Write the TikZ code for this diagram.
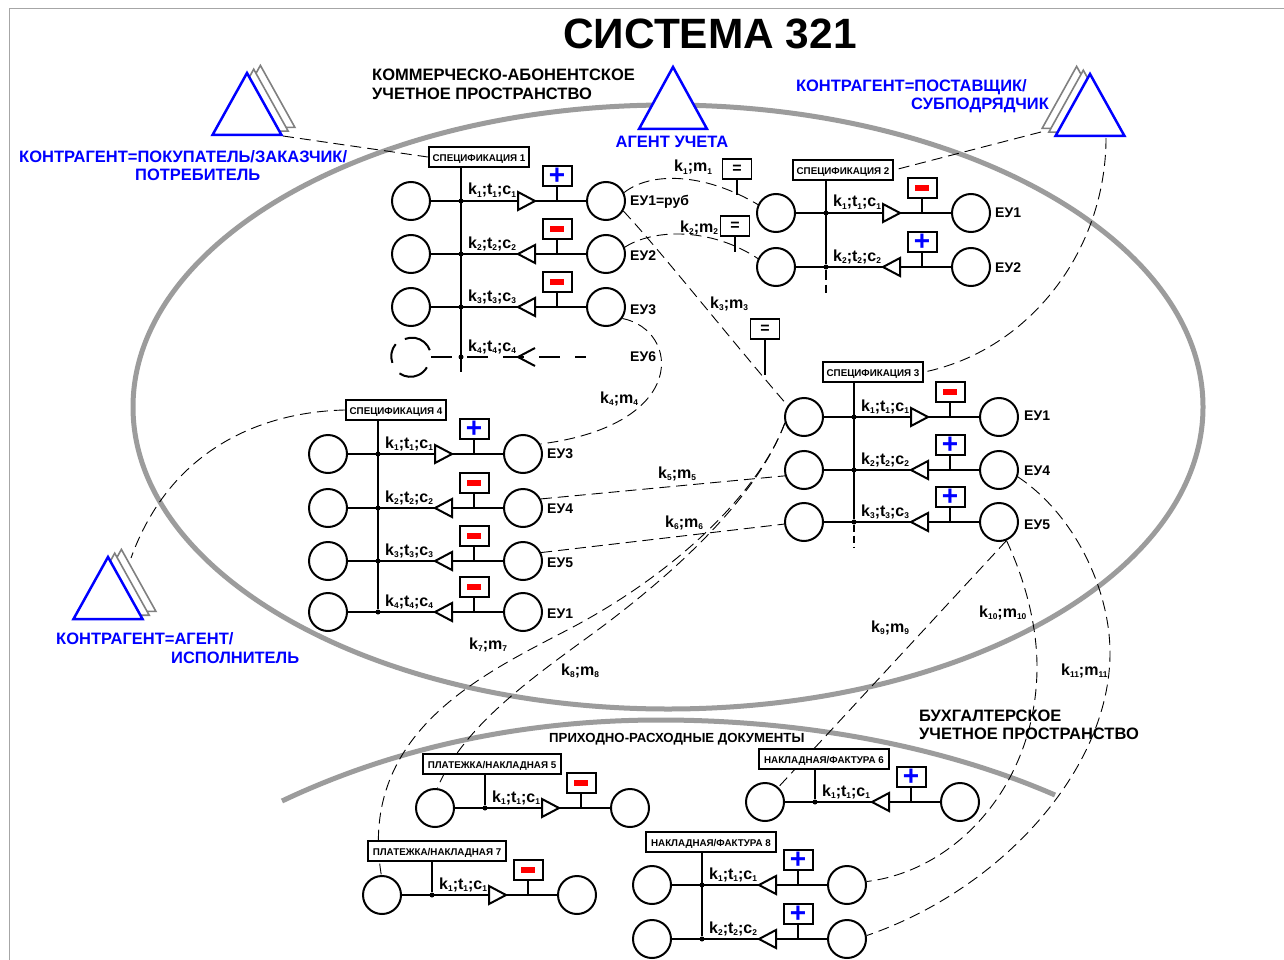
\documentclass[tikz,border=0pt]{standalone}
\usepackage{fontspec}
\setmainfont{Liberation Sans}
\usetikzlibrary{backgrounds}
\newcommand\fs[1]{\fontsize{#1}{#1}\selectfont}
\newcommand\lowd[1]{\raisebox{-2.4pt}{\fs{8.4}#1}}
\newcommand\kt[1]{k\lowd{#1};t\lowd{#1};c\lowd{#1}}
\newcommand\km[1]{k\lowd{#1};m\lowd{#1}}
\newcommand\plussign{\textcolor{blue}{\fs{28}\bfseries +}}
\newcommand\minussign{\textcolor{red}{\rule{14pt}{6pt}}}
\definecolor{arcgray}{HTML}{9C9C9C}
\definecolor{shadow}{HTML}{808080}
\tikzset{
 ring/.style={circle,draw,line width=2pt,minimum size=38pt,inner sep=0pt},
 joint/.style={circle,fill,inner sep=0pt,minimum size=5pt},
 flowline/.style={line width=2pt},
 tribox/.style={line width=2pt,fill=white},
 signbox/.style={draw,line width=2pt,fill=white,minimum width=29pt,minimum height=20pt,inner sep=0pt},
 eqbox/.style={draw,line width=1.3pt,fill=white,minimum width=29pt,minimum height=20pt,inner sep=0pt,font=\fs{16}\bfseries},
 specbox/.style={draw,line width=2.5pt,fill=white,minimum height=20pt,inner sep=0pt,text height=9pt,text depth=0pt,font=\fs{9.8}\bfseries},
 klabel/.style={anchor=base west,inner sep=0pt,font=\fs{16}\bfseries},
 eulabel/.style={anchor=base west,inner sep=0pt,font=\fs{14}\bfseries},
 caption/.style={anchor=base west,inner sep=0pt,font=\fs{16.5}\bfseries},
 bluecap/.style={caption,text=blue},
 link/.style={line width=0.9pt,dash pattern=on 11pt off 6pt},
 thinstem/.style={line width=1.2pt},
 agent/.style={draw=blue,line width=2.5pt,fill=white,line join=miter},
 agentshadow/.style={draw=shadow,line width=1.6pt,fill=white},
}
\newcommand\flowrow[7]{%
 \begin{scope}[shift={(#2,#3)}]
  \node[ring] (#1L) at (-50,0) {};
  \node[ring] (#1R) at (145,0) {};
  \node[joint] (#1D) at (0,0) {};
  \coordinate (#1J) at (96,0);
  \draw[flowline] (#1L) -- (#1R);
  \draw[tribox] (#4,-9) -- (#5,0) -- (#4,9) -- cycle;
  \node[signbox] (#1S) at (96,-25) {#6};
  \draw[flowline] (#1S) -- (#1J);
  \node[klabel] (#1K) at (7,-6) {#7};
 \end{scope}}
\newcommand\flowR[5]{\flowrow{#1}{#2}{#3}{57}{74}{#4}{\kt{#5}}}
\newcommand\flowL[5]{\flowrow{#1}{#2}{#3}{74}{57}{#4}{\kt{#5}}}
\newcommand\agentset[4]{%
 \foreach \k in {2,1}{
  \draw[agentshadow,shift={(#4*\k*6.7,-\k*3.8)}] (#2,#3) -- (#2+34.5,#3+62) -- (#2-34.5,#3+62) -- cycle;}
 \draw[agent] (#2,#3) -- (#2+34.5,#3+62) -- (#2-34.5,#3+62) -- cycle;}
\pgfdeclarelayer{under}
\pgfsetlayers{under,main}
\begin{document}
\begin{tikzpicture}[x=1pt,y=-1pt]
\useasboundingbox (0,0) rectangle (1284,960);
\begin{pgfonlayer}{under}
\fill[white] (0,0) rectangle (1284,960);
\draw[line width=1pt,color=shadow!70] (1284,9) -- (9,9) -- (9,960);
\draw[arcgray,line width=5pt] (668,407) ellipse [x radius=535pt,y radius=302pt];
\draw[arcgray,line width=5pt] (282,801) .. controls (400,745) and (530,720) .. (660,720) .. controls (800,720) and (940,745) .. (1055,795);
\end{pgfonlayer}
% title and captions
\node[inner sep=0pt,font=\fs{42.4}\bfseries] (title) at (710,34) {СИСТЕМА 321};
\node[caption] (ct1) at (372,81) {КОММЕРЧЕСКО-АБОНЕНТСКОЕ};
\node[caption] (ct2) at (372,100) {УЧЕТНОЕ ПРОСТРАНСТВО};
\node[bluecap,anchor=base] (cb1) at (672,148) {АГЕНТ УЧЕТА};
\node[bluecap,anchor=base east] (cb2) at (1027,92) {КОНТРАГЕНТ=ПОСТАВЩИК/};
\node[bluecap,anchor=base east] (cb3) at (1049,110) {СУБПОДРЯДЧИК};
\node[bluecap] (cb4) at (19,163) {КОНТРАГЕНТ=ПОКУПАТЕЛЬ/ЗАКАЗЧИК/};
\node[bluecap] (cb5) at (135,181) {ПОТРЕБИТЕЛЬ};
\node[bluecap] (cb6) at (56,644) {КОНТРАГЕНТ=АГЕНТ/};
\node[bluecap] (cb7) at (171,663) {ИСПОЛНИТЕЛЬ};
\node[caption] (ct3) at (919,721) {БУХГАЛТЕРСКОЕ};
\node[caption] (ct4) at (919,739) {УЧЕТНОЕ ПРОСТРАНСТВО};
\node[caption,font=\fs{13.2}\bfseries] (ct5) at (549,742) {ПРИХОДНО-РАСХОДНЫЕ ДОКУМЕНТЫ};
% agents
\agentset{ag1}{247}{73}{1}
\agentset{ag2}{1090}{74}{-1}
\agentset{ag3}{108}{557}{1}
\draw[agent] (673,67) -- (707,129) -- (639,129) -- cycle;
% boxes
\node[specbox,minimum width=100pt] (s1) at (479,157) {СПЕЦИФИКАЦИЯ 1};
\node[specbox,minimum width=100pt] (s2) at (843,170) {СПЕЦИФИКАЦИЯ 2};
\node[specbox,minimum width=100pt] (s3) at (873,372) {СПЕЦИФИКАЦИЯ 3};
\node[specbox,minimum width=100pt] (s4) at (396,410) {СПЕЦИФИКАЦИЯ 4};
\node[specbox,minimum width=138pt] (d5) at (492,764) {ПЛАТЕЖКА/НАКЛАДНАЯ 5};
\node[specbox,minimum width=130pt] (d6) at (824,759) {НАКЛАДНАЯ/ФАКТУРА 6};
\node[specbox,minimum width=138pt] (d7) at (437,851) {ПЛАТЕЖКА/НАКЛАДНАЯ 7};
\node[specbox,minimum width=130pt] (d8) at (711,842) {НАКЛАДНАЯ/ФАКТУРА 8};
% spec 1
\flowR{a1}{461}{201}{\plussign}{1}
\flowL{a2}{461}{254}{\minussign}{2}
\flowL{a3}{461}{307}{\minussign}{3}
\node[joint] (a4D) at (461,357) {};
\node[ring,draw=none] (a4L) at (411,357) {};
\draw[flowline] (a4L.20) arc [start angle=20,end angle=112,radius=19pt];
\draw[flowline] (a4L.140) arc [start angle=140,end angle=200,radius=19pt];
\draw[flowline] (a4L.235) arc [start angle=235,end angle=330,radius=19pt];
\coordinate (a4E) at (586,357);
\draw[line width=2pt,dash pattern=on 21pt off 15pt] (a4L.east) -- (a4E);
\draw[flowline] (535,348) -- (518,357) -- (535,366);
\node[klabel] (a4K) at (468,351) {\kt{4}};
\coordinate (a5E) at (461,372);
\draw[flowline] (s1.south -| a1D) -- (a5E);
% spec 2
\flowR{b1}{826}{213}{\minussign}{1}
\flowL{b2}{826}{267}{\plussign}{2}
\coordinate (b3E) at (826,293);
\draw[flowline] (s2.south -| b1D) -- (b2D);
\draw[line width=2pt,dash pattern=on 10pt off 5pt] (b2D) -- (b3E);
% spec 3
\flowR{c1}{854}{417}{\minussign}{1}
\flowL{c2}{854}{470}{\plussign}{2}
\flowL{c3}{854}{522}{\plussign}{3}
\coordinate (c4E) at (854,548);
\draw[flowline] (s3.south -| c1D) -- (c3D);
\draw[line width=1.1pt,dash pattern=on 7pt off 4pt] (c3D) -- (c4E);
% spec 4
\flowR{e1}{378}{454}{\plussign}{1}
\flowL{e2}{378}{508}{\minussign}{2}
\flowL{e3}{378}{561}{\minussign}{3}
\flowL{e4}{378}{612}{\minussign}{4}
\draw[flowline] (s4.south -| e1D) -- (e4D);
% documents
\flowR{f1}{485}{808}{\minussign}{1}
\draw[flowline] (d5.south -| f1D) -- (f1D);
\flowL{g1}{815}{802}{\plussign}{1}
\draw[flowline] (d6.south -| g1D) -- (g1D);
\flowR{h1}{432}{895}{\minussign}{1}
\draw[flowline] (d7.south -| h1D) -- (h1D);
\flowL{j1}{702}{885}{\plussign}{1}
\flowL{j2}{702}{939}{\plussign}{2}
\draw[flowline] (d8.south -| j1D) -- (j2D);
% EU labels
\node[eulabel] (eu1) at (630,205) {ЕУ1=руб};
\node[eulabel] (eu2) at (630,260) {ЕУ2};
\node[eulabel] (eu3) at (630,314) {ЕУ3};
\node[eulabel] (eu4) at (630,361) {ЕУ6};
\node[eulabel] (eu5) at (995,217) {ЕУ1};
\node[eulabel] (eu6) at (995,272) {ЕУ2};
\node[eulabel] (eu7) at (1024,420) {ЕУ1};
\node[eulabel] (eu8) at (1024,475) {ЕУ4};
\node[eulabel] (eu9) at (1024,529) {ЕУ5};
\node[eulabel] (eu10) at (547,458) {ЕУ3};
\node[eulabel] (eu11) at (547,513) {ЕУ4};
\node[eulabel] (eu12) at (547,567) {ЕУ5};
\node[eulabel] (eu13) at (547,618) {ЕУ1};
% equal boxes
\node[eqbox] (q1) at (737,169) {=};
\coordinate (q1E) at (737,195);
\draw[thinstem] (q1) -- (q1E);
\node[eqbox] (q2) at (735,226) {=};
\coordinate (q2E) at (735,252);
\draw[thinstem] (q2) -- (q2E);
\node[eqbox] (q3) at (765,329) {=};
\coordinate (q3E) at (765,375);
\draw[thinstem] (q3) -- (q3E);
% link labels
\node[klabel] (m1) at (674,172) {\km{1}};
\node[klabel] (m2) at (680,232) {\km{2}};
\node[klabel] (m3) at (710,308) {\km{3}};
\node[klabel] (m4) at (600,403) {\km{4}};
\node[klabel] (m5) at (658,478) {\km{5}};
\node[klabel] (m6) at (665,527) {\km{6}};
\node[klabel] (m7) at (469,649) {\km{7}};
\node[klabel] (m8) at (561,675) {\km{8}};
\node[klabel] (m9) at (871,632) {\km{9}};
\node[klabel] (m10) at (979,617) {\km{10}};
\node[klabel] (m11) at (1061,675) {\km{11}};
% dashed links
\coordinate (ag1L) at (283,136);
\coordinate (ag2L) at (1041,132);
\coordinate (ag2B) at (1106,138);
\coordinate (ag3T) at (131,558);
\begin{pgfonlayer}{under}
\draw[link] (ag1L) -- (s1.west);
\draw[link] (ag2L) -- (s2.east);
\draw[link] (ag2B) .. controls (1106,250) and (1030,350) .. (s3.east);
\draw[link] (s4.west) .. controls (260,412) and (170,450) .. (ag3T);
\draw[link] (a1R.25) .. controls (650,172) and (703,172) .. (b1L.155);
\draw[link] (a2R.20) .. controls (655,228) and (712,228) .. (b2L.155);
\draw[link] (a1R.-30) .. controls (660,250) and (735,345) .. (c1L.145);
\draw[link] (a3R.-35) .. controls (680,330) and (690,425) .. (e1R.30);
\draw[link] (e2R.27) -- (c2L.197);
\draw[link] (e3R.25) -- (c3L.186);
\draw[link] (c1L.197) .. controls (760,490) and (680,570) .. (573,627) .. controls (490,671) and (357,729) .. (h1L.92);
\draw[link] (c1L.197) .. controls (760,490) and (690,560) .. (607,623) .. controls (550,666) and (465,720) .. (f1L.83);
\draw[link] (c3R.-68) -- (g1L.48);
\draw[link] (c3R.-68) .. controls (1025,580) and (1037,625) .. (1037,667) .. controls (1037,780) and (960,870) .. (j1R.10);
\draw[link] (c2R.-20) .. controls (1075,515) and (1110,590) .. (1110,653) .. controls (1110,770) and (1000,890) .. (j2R.10);
\end{pgfonlayer}
\end{tikzpicture}
\end{document}
